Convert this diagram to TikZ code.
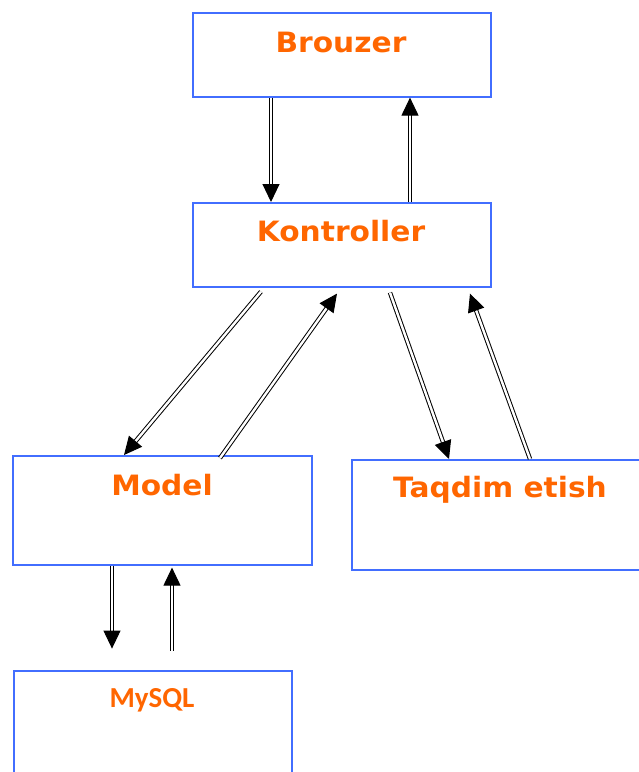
\documentclass[tikz,border=0pt]{standalone}
\usepackage{fontspec}
\usetikzlibrary{arrows.meta,calc}
\newfontfamily\verdfont[FakeStretch=1.06]{DejaVu Sans}
\newfontfamily\calfont{Carlito}
\definecolor{boxblue}{RGB}{66,110,255}
\definecolor{lblorange}{RGB}{255,102,0}
\begin{document}
\begin{tikzpicture}[x=1pt,y=-1pt,
  box/.style={draw=boxblue,line width=1.6pt,rectangle,inner sep=0pt,anchor=north west},
  lbl/.style={text=lblorange,font=\verdfont\bfseries\fontsize{28}{32}\selectfont,inner sep=0pt},
  lblsm/.style={text=lblorange,font=\calfont\bfseries\fontsize{29}{32}\selectfont,inner sep=0pt},
  arr/.style={draw=black,line width=1pt,double=white,double distance=2.4pt,
    -{Triangle[length=18pt,width=17pt]}}]
\useasboundingbox (0,0) rectangle (638,772);
\fill[white] (0,0) rectangle (638,772);
\node[box,minimum width=298pt,minimum height=84pt] (brouzer) at (192,12) {};
\node[box,minimum width=298pt,minimum height=84pt] (kontroller) at (192,202) {};
\node[box,minimum width=299pt,minimum height=109pt] (model) at (12,455) {};
\node[box,minimum width=300pt,minimum height=110pt] (taqdim) at (351,459) {};
\node[box,minimum width=278pt,minimum height=120pt] (mysql) at (13,670) {};
\node[lbl] (tb) at (341,42) {Brouzer};
\node[lbl] (tk) at (341,231) {Kontroller};
\node[lbl] (tm) at (162,485) {Model};
\node[lbl] (tt) at (500,490) {Taqdim etish};
\node[lblsm] (ts) at (152,700) {MySQL};
% Brouzer <-> Kontroller
\draw[arr] ([xshift=79pt]brouzer.south west) -- ([xshift=79pt]kontroller.north west);
\draw[arr] ([xshift=218pt]kontroller.north west) -- ([xshift=218pt]brouzer.south west);
% Kontroller <-> Model
\draw[arr] ([xshift=69pt,yshift=-4pt]kontroller.south west) -- ([xshift=112pt]model.north west);
\draw[arr] ([xshift=208pt,yshift=-3pt]model.north west) -- ([xshift=145pt,yshift=-6pt]kontroller.south west);
% Kontroller <-> Taqdim
\draw[arr] ([xshift=198pt,yshift=-5pt]kontroller.south west) -- ([xshift=98pt]taqdim.north west);
\draw[arr] ([xshift=179pt]taqdim.north west) -- ([xshift=278pt,yshift=-6pt]kontroller.south west);
% Model <-> MySQL
\coordinate (mdown) at ($(model.south west)+(100,83)$);
\coordinate (mup) at ($(model.south west)+(160,85)$);
\draw[arr] ([xshift=100pt]model.south west) -- (mdown);
\draw[arr] (mup) -- ([xshift=160pt,yshift=-2pt]model.south west);
\end{tikzpicture}
\end{document}
